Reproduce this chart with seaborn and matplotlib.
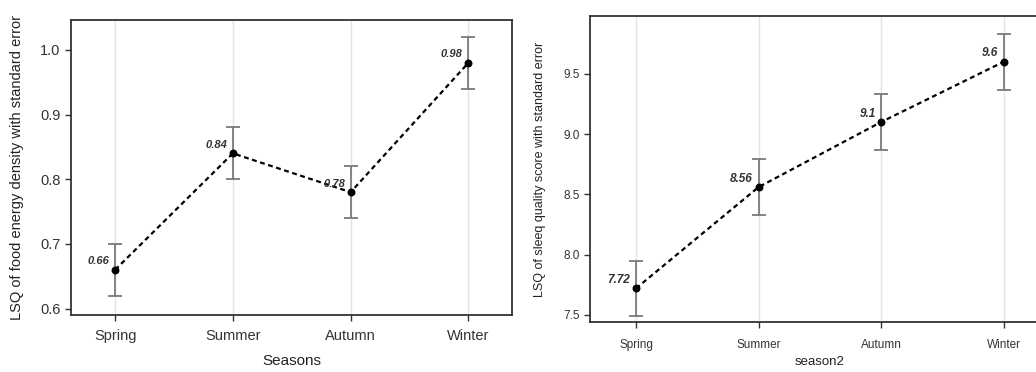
import matplotlib
matplotlib.use("Agg")
import matplotlib.pyplot as plt
import seaborn as sns
import pandas as pd

# data
seasons = ["Spring", "Summer", "Autumn", "Winter"]
food_lsq = [0.66, 0.84, 0.78, 0.98]
food_se = [0.04, 0.04, 0.04, 0.04]
sleep_lsq = [7.72, 8.56, 9.10, 9.60]
sleep_se = [0.23, 0.23, 0.23, 0.23]
sleep_labels = ["7.72", "8.56", "9.1", "9.6"]

sns.set_style("white")
plt.rcParams['font.family'] = ['Liberation Sans', 'DejaVu Sans']

fig = plt.figure(figsize=(10.36, 3.72), dpi=100)
ax1 = fig.add_axes([0.0685, 0.153, 0.4257, 0.793])
ax2 = fig.add_axes([0.5695, 0.134, 0.443, 0.823])


def draw_panel(ax, vals, se, labels, ylim, yticks, ylabel, xlabel,
               fs_tick, fs_lab, fs_ann, xpad, xlabpad, ylabpad):
    df = pd.DataFrame({"season": seasons, "lsq": vals})
    ax.errorbar(range(len(seasons)), vals, yerr=se, fmt="none",
                ecolor="#7a7a7a", elinewidth=1.3, capsize=5, capthick=1.3, zorder=2)
    sns.pointplot(data=df, x="season", y="lsq", order=seasons, color="black",
                  linestyles="--", markers="o", errorbar=None, ax=ax,
                  markersize=4.5, linewidth=1.6, zorder=3)
    for ln in ax.lines:
        if ln.get_linestyle() == "--":
            ln.set_dashes((2.2, 1.6))
    # seaborn turns the category grid off, so put it back afterwards
    ax.xaxis.grid(True, color="#e4e4e4", lw=1)
    ax.yaxis.grid(False)
    ax.set_axisbelow(True)
    for i, (v, t) in enumerate(zip(vals, labels)):
        ax.annotate(t, (i, v), xytext=(-4, 6), textcoords="offset points",
                    ha="right", va="center", fontsize=fs_ann,
                    style="italic", weight="bold", color="#333333")
    ax.set_xlim(-0.375, 3.37)
    ax.set_ylim(*ylim)
    ax.set_yticks(yticks)
    ax.set_ylabel(ylabel, fontsize=fs_lab, color="#222222", labelpad=ylabpad)
    ax.set_xlabel(xlabel, fontsize=fs_lab + 0.5, color="#222222", labelpad=xlabpad)
    ax.tick_params(axis="both", direction="out", length=4, width=1,
                   colors="#333333", labelsize=fs_tick, bottom=True, left=True)
    ax.tick_params(axis="x", pad=xpad)
    for s in ax.spines.values():
        s.set_color("#333333")
        s.set_linewidth(1.3)


draw_panel(ax1, food_lsq, food_se, ["%.2f" % v for v in food_lsq],
           (0.590, 1.046), [0.6, 0.7, 0.8, 0.9, 1.0],
           "LSQ of food energy density with standard error", "Seasons",
           10.5, 10.5, 8, 6, 8, 12)
ax1.set_yticklabels(["0.6", "0.7", "0.8", "0.9", "1.0"])

draw_panel(ax2, sleep_lsq, sleep_se, sleep_labels,
           (7.44, 9.98), [7.5, 8.0, 8.5, 9.0, 9.5],
           "LSQ of sleeq quality score with standard error", "season2",
           8.5, 9, 8.5, 8, 4, 12)

fig.savefig("out.png", dpi=100)
